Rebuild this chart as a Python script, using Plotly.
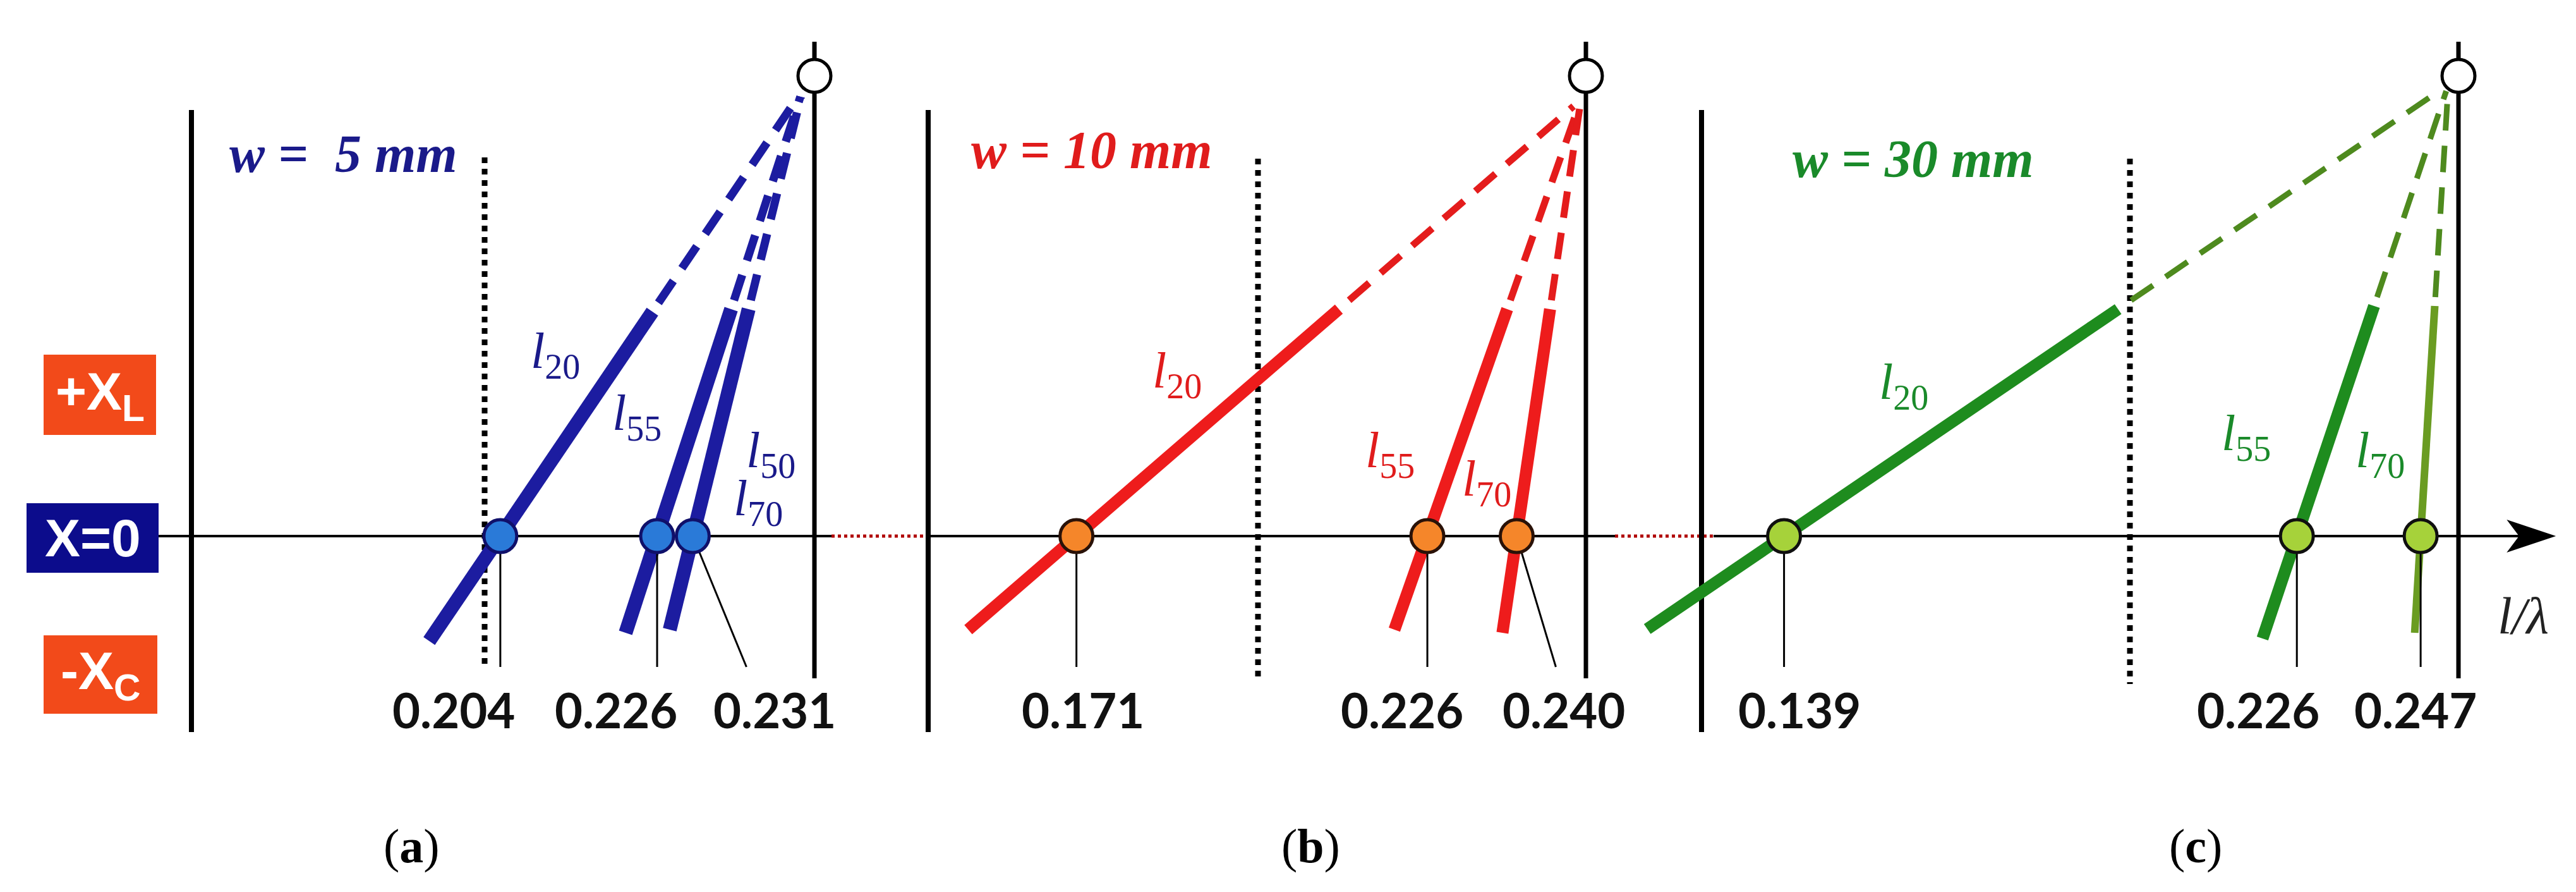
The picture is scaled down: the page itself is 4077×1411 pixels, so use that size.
import plotly.graph_objects as go

# ---------------- data ----------------
CROSS_A = [0.204, 0.226, 0.231]
CROSS_B = [0.171, 0.226, 0.240]
CROSS_C = [0.139, 0.226, 0.247]
TICK_A = ["0.204", "0.226", "0.231"]
TICK_B = ["0.171", "0.226", "0.240"]
TICK_C = ["0.139", "0.226", "0.247"]
NAMES_A = ["20", "55", "70"]
NAMES_B = ["20", "55", "70"]
NAMES_C = ["20", "55", "70"]
WIDTH_LABELS = ["w =  5 mm", "w = 10 mm", "w = 30 mm"]
PANEL_LABELS = ["a", "b", "c"]
ROW_LABELS = ["+X<sub>L</sub>", "X=0", "-X<sub>C</sub>"]

W, H = 4077, 1411
Y0 = 840  # pixel row of X=0
def Y(py):
    return Y0 - py

# panel geometry (pixel scale k, value at left edge v0, convergence point)
K = [11280, 10098, 9329]
V0 = [0.13451, 0.00308, -0.16281]
CONV = [(0.24639, 705), (0.25006, 690), (0.25170, 714)]
LEFT = [295, 1461, 2685]
RIGHT = [1281, 2502, 3883]
DOT = [(759, 241, 1047), (1983, 243, 1069), (3363, 243, 1074)]
COL_LINE = [["#1c1ca0"] * 3, ["#ee1c1c"] * 3, ["#1e8c1e", "#1e8c1e", "#6a9c22"]]
COL_DASH = [["#1c1ca0"] * 3, ["#e41c1c"] * 3, ["#4e8a1e"] * 3]
COL_TEXT = ["#1a1a8a", "#e01c1c", "#1a8a2a"]
FILL = ["#2a7ad8", "#f5862a", "#a6d23a"]
EDGE = ["#10106a", "#2a1208", "#101010"]
YBOT = [[-166, -153, -148], [-148, -148, -153], [-147, -162, -153]]
YSOL = [[355, 359, 359], [359, 359, 359], [359, 364, 364]]
LW = [[22, 22, 22], [19, 19, 19], [19, 19, 12]]
DW = [[13, 13, 13], [11, 11, 11], [9, 9, 9]]
LEAD_DX = [[0, 0, 85], [0, 0, 62], [0, 0, 0]]
TICK_DX = [[-74, -65, 130], [10, -40, 75], [24, -61, -8]]
LBL_POS = [[(871, 553), (1000, 651), (1192, 786)],
           [(1855, 584), (2192, 710), (2345, 755)],
           [(3005, 602), (3547, 683), (3759, 710)]]
WPOS = [(535, 235), (1720, 229), (3020, 243)]
PPOS = [643, 2066, 3467]

CROSS = [CROSS_A, CROSS_B, CROSS_C]
TICKS = [TICK_A, TICK_B, TICK_C]
NAMES = [NAMES_A, NAMES_B, NAMES_C]

fig = go.Figure()
shapes = []
ann = []

def hline(x0, x1, y, color="black", width=4, dash="solid"):
    shapes.append(dict(type="line", xref="x", yref="y", x0=x0, x1=x1, y0=y, y1=y,
                       line=dict(color=color, width=width, dash=dash), layer="below"))

# horizontal axis pieces
hline(243, 1308, 0)
hline(1308, 1461, 0, "#b00000", 5, "dot")
hline(1461, 2548, 0)
hline(2548, 2704, 0, "#b00000", 5, "dot")
hline(2704, 4000, 0)
shapes.append(dict(type="path", xref="x", yref="y",
                   path="M 4034 0 L 3962 24 L 3980 0 L 3962 -24 Z",
                   fillcolor="black", line=dict(color="black", width=2)))

for p in range(3):
    shapes.append(dict(type="line", xref="x", yref="y", x0=LEFT[p], x1=LEFT[p], y0=Y(166), y1=Y(1150),
                       line=dict(color="black", width=8), layer="below"))
    shapes.append(dict(type="line", xref="x", yref="y", x0=RIGHT[p], x1=RIGHT[p], y0=Y(58), y1=Y(1065),
                       line=dict(color="black", width=7), layer="below"))
    dx, dy0, dy1 = DOT[p]
    shapes.append(dict(type="line", xref="x", yref="y", x0=dx, x1=dx, y0=Y(dy0), y1=Y(dy1),
                       line=dict(color="black", width=9, dash="dot"), layer="below"))
    shapes.append(dict(type="circle", xref="x", yref="y", x0=RIGHT[p] - 26, x1=RIGHT[p] + 26,
                       y0=Y(112) - 26, y1=Y(112) + 26, fillcolor="white",
                       line=dict(color="black", width=5)))

    xa = "x%d" % (p + 2)
    cx, cy = CONV[p]
    k = K[p]
    for i, v in enumerate(CROSS[p]):
        def xat(yy):
            return v + (cx - v) * yy / cy
        yb, ys = YBOT[p][i], YSOL[p][i]
        fig.add_trace(go.Scatter(x=[xat(yb), xat(ys)], y=[yb, ys], mode="lines", xaxis=xa,
                                 line=dict(color=COL_LINE[p][i], width=LW[p][i]), hoverinfo="skip"))
        yd0, yd1 = ys + 14, cy - 10
        fig.add_trace(go.Scatter(x=[xat(yd0), xat(yd1)], y=[yd0, yd1], mode="lines", xaxis=xa,
                                 line=dict(color=COL_DASH[p][i], width=DW[p][i], dash="42px,24px"),
                                 hoverinfo="skip"))
        fig.add_trace(go.Scatter(x=[v, v + LEAD_DX[p][i] / k], y=[0, Y(1047)], mode="lines", xaxis=xa,
                                 line=dict(color="black", width=3), hoverinfo="skip"))
        ann.append(dict(x=v, y=Y(1114), xref=xa, yref="y", text="<b>%s</b>" % TICKS[p][i],
                        xshift=TICK_DX[p][i], showarrow=False,
                        font=dict(family="Lato", size=76, color="#111111")))
        lx, ly = LBL_POS[p][i]
        ann.append(dict(x=lx, y=Y(ly), xref="x", yref="y", showarrow=False,
                        text="<i>l</i><sub>%s</sub>" % NAMES[p][i],
                        font=dict(family="Liberation Serif", size=80, color=COL_TEXT[p])))
    fig.add_trace(go.Scatter(x=CROSS[p], y=[0] * 3, mode="markers", xaxis=xa,
                             marker=dict(size=52, color=FILL[p], line=dict(color=EDGE[p], width=5)),
                             hoverinfo="skip"))
    wx, wy = WPOS[p]
    ann.append(dict(x=wx, y=Y(wy), xref="x", yref="y", showarrow=False,
                    text="<b><i>%s</i></b>" % WIDTH_LABELS[p],
                    font=dict(family="Liberation Serif", size=84, color=COL_TEXT[p])))
    ann.append(dict(x=PPOS[p], y=Y(1330), xref="x", yref="y", showarrow=False,
                    text="(<b>%s</b>)" % PANEL_LABELS[p],
                    font=dict(family="Liberation Serif", size=76, color="black")))

ann.append(dict(x=1212, y=Y(710), xref="x", yref="y", showarrow=False,
                text="<i>l</i><sub>50</sub>", font=dict(family="Liberation Serif", size=80, color=COL_TEXT[0])))
ann.append(dict(x=3985, y=Y(966), xref="x", yref="y", showarrow=False,
                text="<i>l/λ</i>", font=dict(family="Liberation Serif", size=82, color="#222222")))

boxes = [((61, 239), (553, 680), "#f24a1a"), ((34, 243), (788, 898), "#0c0c8c"), ((61, 241), (997, 1121), "#f24a1a")]
for (bx, by, col), txt in zip(boxes, ROW_LABELS):
    shapes.append(dict(type="rect", xref="x", yref="y", x0=bx[0], x1=bx[1], y0=Y(by[0]), y1=Y(by[1]),
                       fillcolor=col, line=dict(width=0), layer="below"))
    ann.append(dict(x=(bx[0] + bx[1]) / 2, y=Y((by[0] + by[1]) / 2), xref="x", yref="y", showarrow=False,
                    text="<b>%s</b>" % txt, font=dict(family="Liberation Sans", size=84, color="white")))

layout = dict(width=W, height=H, autosize=False, margin=dict(l=0, r=0, t=0, b=0),
              paper_bgcolor="white", plot_bgcolor="white", showlegend=False,
              shapes=shapes, annotations=ann,
              xaxis=dict(range=[0, W], visible=False, fixedrange=True),
              yaxis=dict(range=[Y(H), Y(0)], visible=False, fixedrange=True))
for p in range(3):
    layout["xaxis%d" % (p + 2)] = dict(range=[V0[p], V0[p] + W / K[p]], overlaying="x",
                                       visible=False, fixedrange=True)
fig.update_layout(**layout)
fig.write_html("out.html")
